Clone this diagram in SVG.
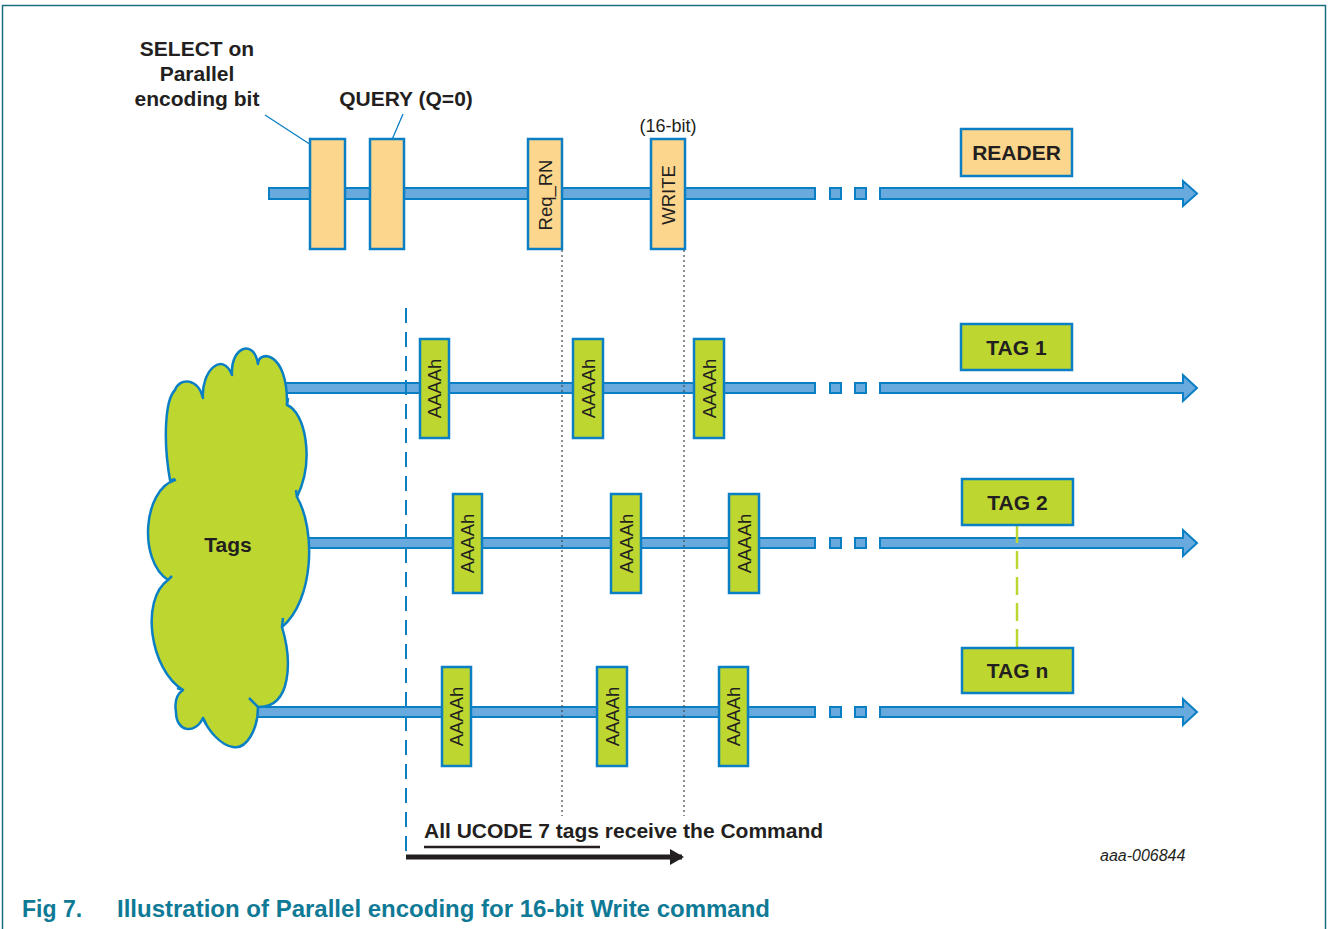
<svg xmlns="http://www.w3.org/2000/svg" width="1328" height="929" viewBox="0 0 1328 929">
<style>
text{font-family:"Liberation Sans",Arial,sans-serif;fill:#231f20}
.b{font-weight:bold;font-size:21px}
.rd{fill:#fdd68d;stroke:#0a7fc4;stroke-width:2.5}
.tg{fill:#bdd630;stroke:#0a7fc4;stroke-width:2.5}
.tl{fill:#68aade;stroke:#0a7fc4;stroke-width:2}
.v{font-size:18.5px}
.dot{stroke:#444;stroke-width:1.2;stroke-dasharray:2 3;fill:none}
</style>
<defs>
<marker id="ah" markerWidth="14" markerHeight="16" refX="12" refY="8" orient="auto" markerUnits="userSpaceOnUse" viewBox="0 0 14 16">
<path d="M0,0 L14,8 L0,16 Z" fill="#231f20"/>
</marker>
</defs>
<rect width="1328" height="929" fill="#fff"/>
<path d="M2.5,929 V5.5 H1325.5 V929" fill="none" stroke="#1a6f80" stroke-width="1.5"/>

<g id="connectors">
<path class="tl" d="M269,188 H815 V199 H269 Z M830,188 H841 V199 H830 Z M855,188 H866 V199 H855 Z M880,188 H1183 V181 L1197,193.5 L1183,206 V199 H880 Z"/>
<path class="tl" d="M280,383 H815 V393 H280 Z M830,383 H841 V393 H830 Z M855,383 H866 V393 H855 Z M880,383 H1183 V375 L1197,388 L1183,401 V393 H880 Z"/>
<path class="tl" d="M305,538 H815 V548 H305 Z M830,538 H841 V548 H830 Z M855,538 H866 V548 H855 Z M880,538 H1183 V530 L1197,543 L1183,556 V548 H880 Z"/>
<path class="tl" d="M250,707 H815 V717 H250 Z M830,707 H841 V717 H830 Z M855,707 H866 V717 H855 Z M880,707 H1183 V699 L1197,712 L1183,725 V717 H880 Z"/>
<line x1="265" y1="115" x2="328" y2="156" stroke="#0a7fc4" stroke-width="1.3"/>
<line x1="403" y1="114" x2="385" y2="156" stroke="#0a7fc4" stroke-width="1.3"/>
<line class="dot" x1="562" y1="250" x2="562" y2="816"/>
<line class="dot" x1="684" y1="250" x2="684" y2="816"/>
<line x1="406" y1="308" x2="406" y2="856" stroke="#0a7fc4" stroke-width="2" stroke-dasharray="15 9"/>
<line x1="1017" y1="525" x2="1017" y2="648" stroke="#bdd630" stroke-width="2.5" stroke-dasharray="18 8"/>
<line x1="406" y1="857" x2="682" y2="857" stroke="#231f20" stroke-width="5" marker-end="url(#ah)"/>
<line x1="424" y1="847" x2="600" y2="847" stroke="#231f20" stroke-width="2.5"/>
</g>

<g id="cloud">
<path d="M170,480 C163,440 165,400 175,390 C180,377 198,378 203,398 C201,372 222,350 232,375 C230,347 254,338 258,364 C258,350 288,350 287,405 C305,412 315,460 297,497 C316,530 314,600 282,627 C292,660 292,708 258,707 C258,730 246,750 233,747 C220,745 208,730 203,718 C195,735 176,732 176,712 C174,700 177,694 183,690 C150,670 140,600 168,580 C138,560 143,490 175,480 Z" fill="#bdd630" stroke="#0a7fc4" stroke-width="2.5" stroke-linejoin="round"/>
<path d="M170,481 L175,479 M168,580 L172,576 M183,690 L177,688 M203,718 L206,724 M258,707 L249,698 M282,627 L283,618 M297,497 L296,490 M287,405 L288,398" fill="none" stroke="#0a7fc4" stroke-width="2.5"/>
<text class="b" x="228" y="552" text-anchor="middle">Tags</text>
</g>

<g id="labels">
<text class="b" text-anchor="middle" x="197" y="56">SELECT on</text>
<text class="b" text-anchor="middle" x="197" y="81">Parallel</text>
<text class="b" text-anchor="middle" x="197" y="106">encoding bit</text>
<text class="b" text-anchor="middle" x="406" y="106">QUERY (Q=0)</text>
<text x="668" y="132" text-anchor="middle" font-size="18">(16-bit)</text>
</g>

<g id="reader-cmds">
<rect class="rd" x="310" y="139" width="35" height="110"/>
<rect class="rd" x="370" y="139" width="34" height="110"/>
<rect class="rd" x="528" y="139" width="34" height="110"/>
<text class="v" transform="translate(552,195) rotate(-90)" text-anchor="middle">Req_RN</text>
<rect class="rd" x="651" y="139" width="34" height="110"/>
<text class="v" transform="translate(675,195) rotate(-90)" text-anchor="middle">WRITE</text>
</g>

<g id="reader">
<rect class="rd" x="961" y="129" width="111" height="47"/>
<text class="b" x="1016.5" y="160" text-anchor="middle">READER</text>
</g>
<g id="tag1">
<rect class="tg" x="961" y="324" width="111" height="46"/>
<text class="b" x="1016.5" y="355" text-anchor="middle">TAG 1</text>
</g>
<g id="tag2">
<rect class="tg" x="962" y="479" width="111" height="46"/>
<text class="b" x="1017.5" y="510" text-anchor="middle">TAG 2</text>
</g>
<g id="tagn">
<rect class="tg" x="962" y="648" width="111" height="45"/>
<text class="b" x="1017.5" y="678" text-anchor="middle">TAG n</text>
</g>

<g id="tag1-replies">
<rect class="tg" x="420" y="339" width="29" height="99"/>
<text class="v" transform="translate(441,388.5) rotate(-90)" text-anchor="middle">AAAAh</text>
<rect class="tg" x="573" y="339" width="30" height="99"/>
<text class="v" transform="translate(595,388.5) rotate(-90)" text-anchor="middle">AAAAh</text>
<rect class="tg" x="694" y="339" width="30" height="99"/>
<text class="v" transform="translate(716,388.5) rotate(-90)" text-anchor="middle">AAAAh</text>
</g>
<g id="tag2-replies">
<rect class="tg" x="453" y="494" width="29" height="99"/>
<text class="v" transform="translate(474,543.5) rotate(-90)" text-anchor="middle">AAAAh</text>
<rect class="tg" x="611" y="494" width="30" height="99"/>
<text class="v" transform="translate(633,543.5) rotate(-90)" text-anchor="middle">AAAAh</text>
<rect class="tg" x="729" y="494" width="30" height="99"/>
<text class="v" transform="translate(751,543.5) rotate(-90)" text-anchor="middle">AAAAh</text>
</g>
<g id="tagn-replies">
<rect class="tg" x="442" y="667" width="29" height="99"/>
<text class="v" transform="translate(463,716.5) rotate(-90)" text-anchor="middle">AAAAh</text>
<rect class="tg" x="597" y="667" width="30" height="99"/>
<text class="v" transform="translate(619,716.5) rotate(-90)" text-anchor="middle">AAAAh</text>
<rect class="tg" x="719" y="667" width="29" height="99"/>
<text class="v" transform="translate(740,716.5) rotate(-90)" text-anchor="middle">AAAAh</text>
</g>

<g id="notes">
<text class="b" x="424" y="838">All UCODE 7 tags receive the Command</text>
<text x="1100" y="861" font-size="16" font-style="italic" fill="#333">aaa-006844</text>
<text x="22" y="917" font-size="23" font-weight="bold" style="fill:#0f7a96">Fig 7.</text>
<text x="117" y="917" font-size="23" font-weight="bold" style="fill:#0f7a96" textLength="653" lengthAdjust="spacingAndGlyphs">Illustration of Parallel encoding for 16-bit Write command</text>
</g>
</svg>
